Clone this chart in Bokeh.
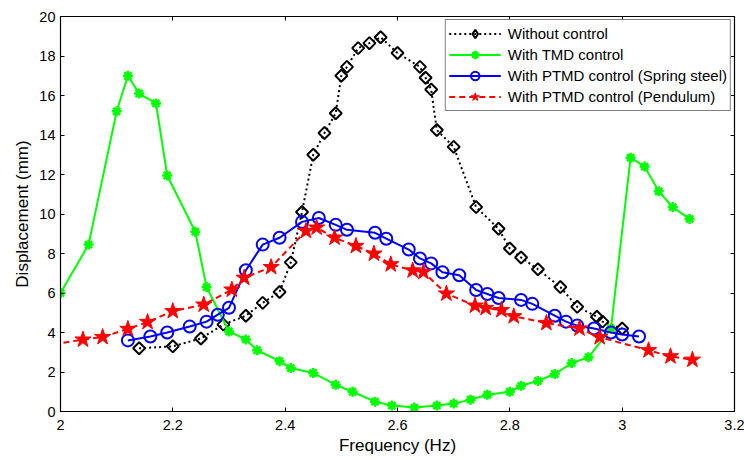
from bokeh.plotting import figure
from bokeh.models import (LinearAxis, Legend, LegendItem, Range1d, FixedTicker,
                          NumeralTickFormatter, CustomJSTickFormatter)
from bokeh.embed import file_html
from bokeh.resources import INLINE
import math

# ---------------- data ----------------
freq_none = [2.14, 2.20, 2.25, 2.29, 2.33, 2.36, 2.39, 2.41, 2.43, 2.45, 2.47, 2.49,
             2.50, 2.51, 2.53, 2.55, 2.57, 2.60, 2.64, 2.65, 2.66, 2.67, 2.70, 2.74,
             2.78, 2.80, 2.82, 2.85, 2.89, 2.92, 2.955, 2.965, 3.0]
disp_none = [3.2, 3.3, 3.7, 4.4, 4.85, 5.5, 6.05, 7.55, 10.1, 13.0, 14.1, 15.1,
             17.0, 17.45, 18.4, 18.65, 18.95, 18.15, 17.45, 16.9, 16.3, 14.25, 13.4, 10.35,
             9.25, 8.25, 7.8, 7.2, 6.3, 5.3, 4.8, 4.55, 4.2]

freq_tmd = [2.0, 2.05, 2.10, 2.12, 2.14, 2.17, 2.19, 2.24, 2.26, 2.30, 2.33, 2.35,
            2.39, 2.41, 2.45, 2.49, 2.52, 2.56, 2.59, 2.63, 2.67, 2.70, 2.73, 2.76,
            2.80, 2.82, 2.85, 2.88, 2.91, 2.94, 2.98, 3.015, 3.04, 3.065, 3.09, 3.12]
disp_tmd = [6.0, 8.45, 15.2, 17.0, 16.1, 15.6, 11.95, 9.1, 6.3, 4.05, 3.65, 3.1,
            2.55, 2.2, 1.95, 1.35, 1.0, 0.5, 0.3, 0.2, 0.3, 0.4, 0.6, 0.85,
            1.0, 1.3, 1.55, 1.9, 2.45, 2.75, 4.2, 12.85, 12.4, 11.15, 10.35, 9.75]

freq_spring = [2.12, 2.16, 2.19, 2.23, 2.26, 2.28, 2.30, 2.33, 2.36, 2.39, 2.43, 2.46,
               2.49, 2.51, 2.56, 2.58, 2.62, 2.64, 2.66, 2.68, 2.71, 2.74, 2.76, 2.78,
               2.82, 2.84, 2.88, 2.90, 2.92, 2.95, 2.98, 3.0, 3.03]
disp_spring = [3.6, 3.8, 4.0, 4.3, 4.55, 4.9, 5.25, 7.15, 8.45, 8.8, 9.6, 9.8,
               9.45, 9.2, 9.05, 8.75, 8.2, 7.75, 7.5, 7.05, 6.9, 6.15, 5.95, 5.75,
               5.65, 5.45, 4.85, 4.55, 4.35, 4.2, 4.0, 3.9, 3.8]

freq_pend = [1.97, 2.04, 2.075, 2.12, 2.155, 2.20, 2.255, 2.305, 2.327, 2.375, 2.437,
             2.456, 2.488, 2.526, 2.558, 2.588, 2.627, 2.646, 2.687, 2.738, 2.757,
             2.785, 2.807, 2.865, 2.924, 2.96, 3.047, 3.086, 3.125]
disp_pend = [3.33, 3.64, 3.77, 4.18, 4.53, 5.08, 5.41, 6.17, 6.77, 7.31, 9.14,
             9.31, 8.8, 8.38, 7.99, 7.45, 7.14, 7.06, 5.97, 5.36, 5.24,
             5.13, 4.82, 4.48, 4.2, 3.76, 3.1, 2.79, 2.62]

x_ticks = [2.0, 2.2, 2.4, 2.6, 2.8, 3.0, 3.2]
y_ticks = [0, 2, 4, 6, 8, 10, 12, 14, 16, 18, 20]

labels = ["Without control", "With TMD control",
          "With PTMD control (Spring steel)", "With PTMD control (Pendulum)"]

FONT = "Liberation Sans"

# ---------------- figure ----------------
p = figure(width=744, height=459, output_backend="svg", toolbar_location=None,
           x_range=Range1d(2, 3.2), y_range=Range1d(0, 20),
           min_border_left=60, min_border_right=10, min_border_top=16,
           min_border_bottom=48)
p.xgrid.visible = False
p.ygrid.visible = False
p.outline_line_color = "black"
p.background_fill_color = "white"
p.border_fill_color = "white"

bottom_ax = p.below[0]
left_ax = p.left[0]
top_ax = LinearAxis()
right_ax = LinearAxis()
p.add_layout(top_ax, "above")
p.add_layout(right_ax, "right")

for ax in [bottom_ax, top_ax]:
    ax.ticker = FixedTicker(ticks=x_ticks)
for ax in [left_ax, right_ax]:
    ax.ticker = FixedTicker(ticks=y_ticks)
bottom_ax.formatter = NumeralTickFormatter(format="0.[0]")

for ax in [bottom_ax, left_ax, top_ax, right_ax]:
    ax.major_tick_in = 4
    ax.major_tick_out = 0
    ax.minor_tick_line_color = None
    ax.axis_line_color = "black"
    ax.axis_line_width = 1.2
    ax.major_tick_line_color = "black"
    ax.major_label_text_font = FONT
    ax.major_label_text_font_size = "14.5px"
    ax.major_label_text_color = "black"
    ax.major_label_standoff = 5

for ax in [top_ax, right_ax]:
    ax.formatter = CustomJSTickFormatter(code="return ''")
    ax.major_label_standoff = 0

bottom_ax.major_label_standoff = 8

bottom_ax.axis_label = "Frequency (Hz)"
left_ax.axis_label = "Displacement (mm)"
for ax in [bottom_ax, left_ax]:
    ax.axis_label_text_font = FONT
    ax.axis_label_text_font_size = "17px"
    ax.axis_label_text_font_style = "normal"
    ax.axis_label_text_color = "black"
bottom_ax.axis_label_standoff = 3
left_ax.axis_label_standoff = 4

# ---------------- series ----------------
l0 = p.line(freq_none, disp_none, line_color="black", line_width=2, line_dash="2 3")
s0 = p.scatter(freq_none, disp_none, marker="square", size=8.5, angle=math.pi / 4,
               fill_color=None, line_color="black", line_width=2)
# legend proxy (not drawn in the plot): legends ignore the marker angle
s0_leg = p.scatter(x=[float("nan")], y=[float("nan")], marker="diamond", size=13,
                   fill_color=None, line_color="black", line_width=2)

l1 = p.line(freq_tmd, disp_tmd, line_color="#00ff00", line_width=2)
s1 = p.scatter(freq_tmd, disp_tmd, marker="asterisk", size=10,
               line_color="#00ff00", line_width=2.5)

l2 = p.line(freq_spring, disp_spring, line_color="#0000ff", line_width=2)
s2 = p.scatter(freq_spring, disp_spring, marker="circle", size=12,
               fill_color=None, line_color="#0000ff", line_width=2)

l3 = p.line(freq_pend, disp_pend, line_color="#ff0000", line_width=2, line_dash="6 4")
s3 = p.scatter(freq_pend, disp_pend, marker="star", size=17,
               fill_color="#ff0000", line_color="#ff0000", line_width=1)

legend = Legend(items=[
    LegendItem(label=labels[0], renderers=[l0, s0_leg]),
    LegendItem(label=labels[1], renderers=[l1, s1]),
    LegendItem(label=labels[2], renderers=[l2, s2]),
    LegendItem(label=labels[3], renderers=[l3, s3]),
], location="top_right")
legend.margin = 3
legend.padding = 3
legend.spacing = 0
legend.glyph_width = 52
legend.glyph_height = 21
legend.label_height = 21
legend.label_standoff = 7
legend.label_text_font = FONT
legend.label_text_font_size = "15px"
legend.label_text_color = "black"
legend.border_line_color = "black"
legend.border_line_width = 1.2
legend.background_fill_color = "white"
legend.background_fill_alpha = 1.0
p.add_layout(legend)

open("out.html", "w").write(file_html(p, INLINE))
